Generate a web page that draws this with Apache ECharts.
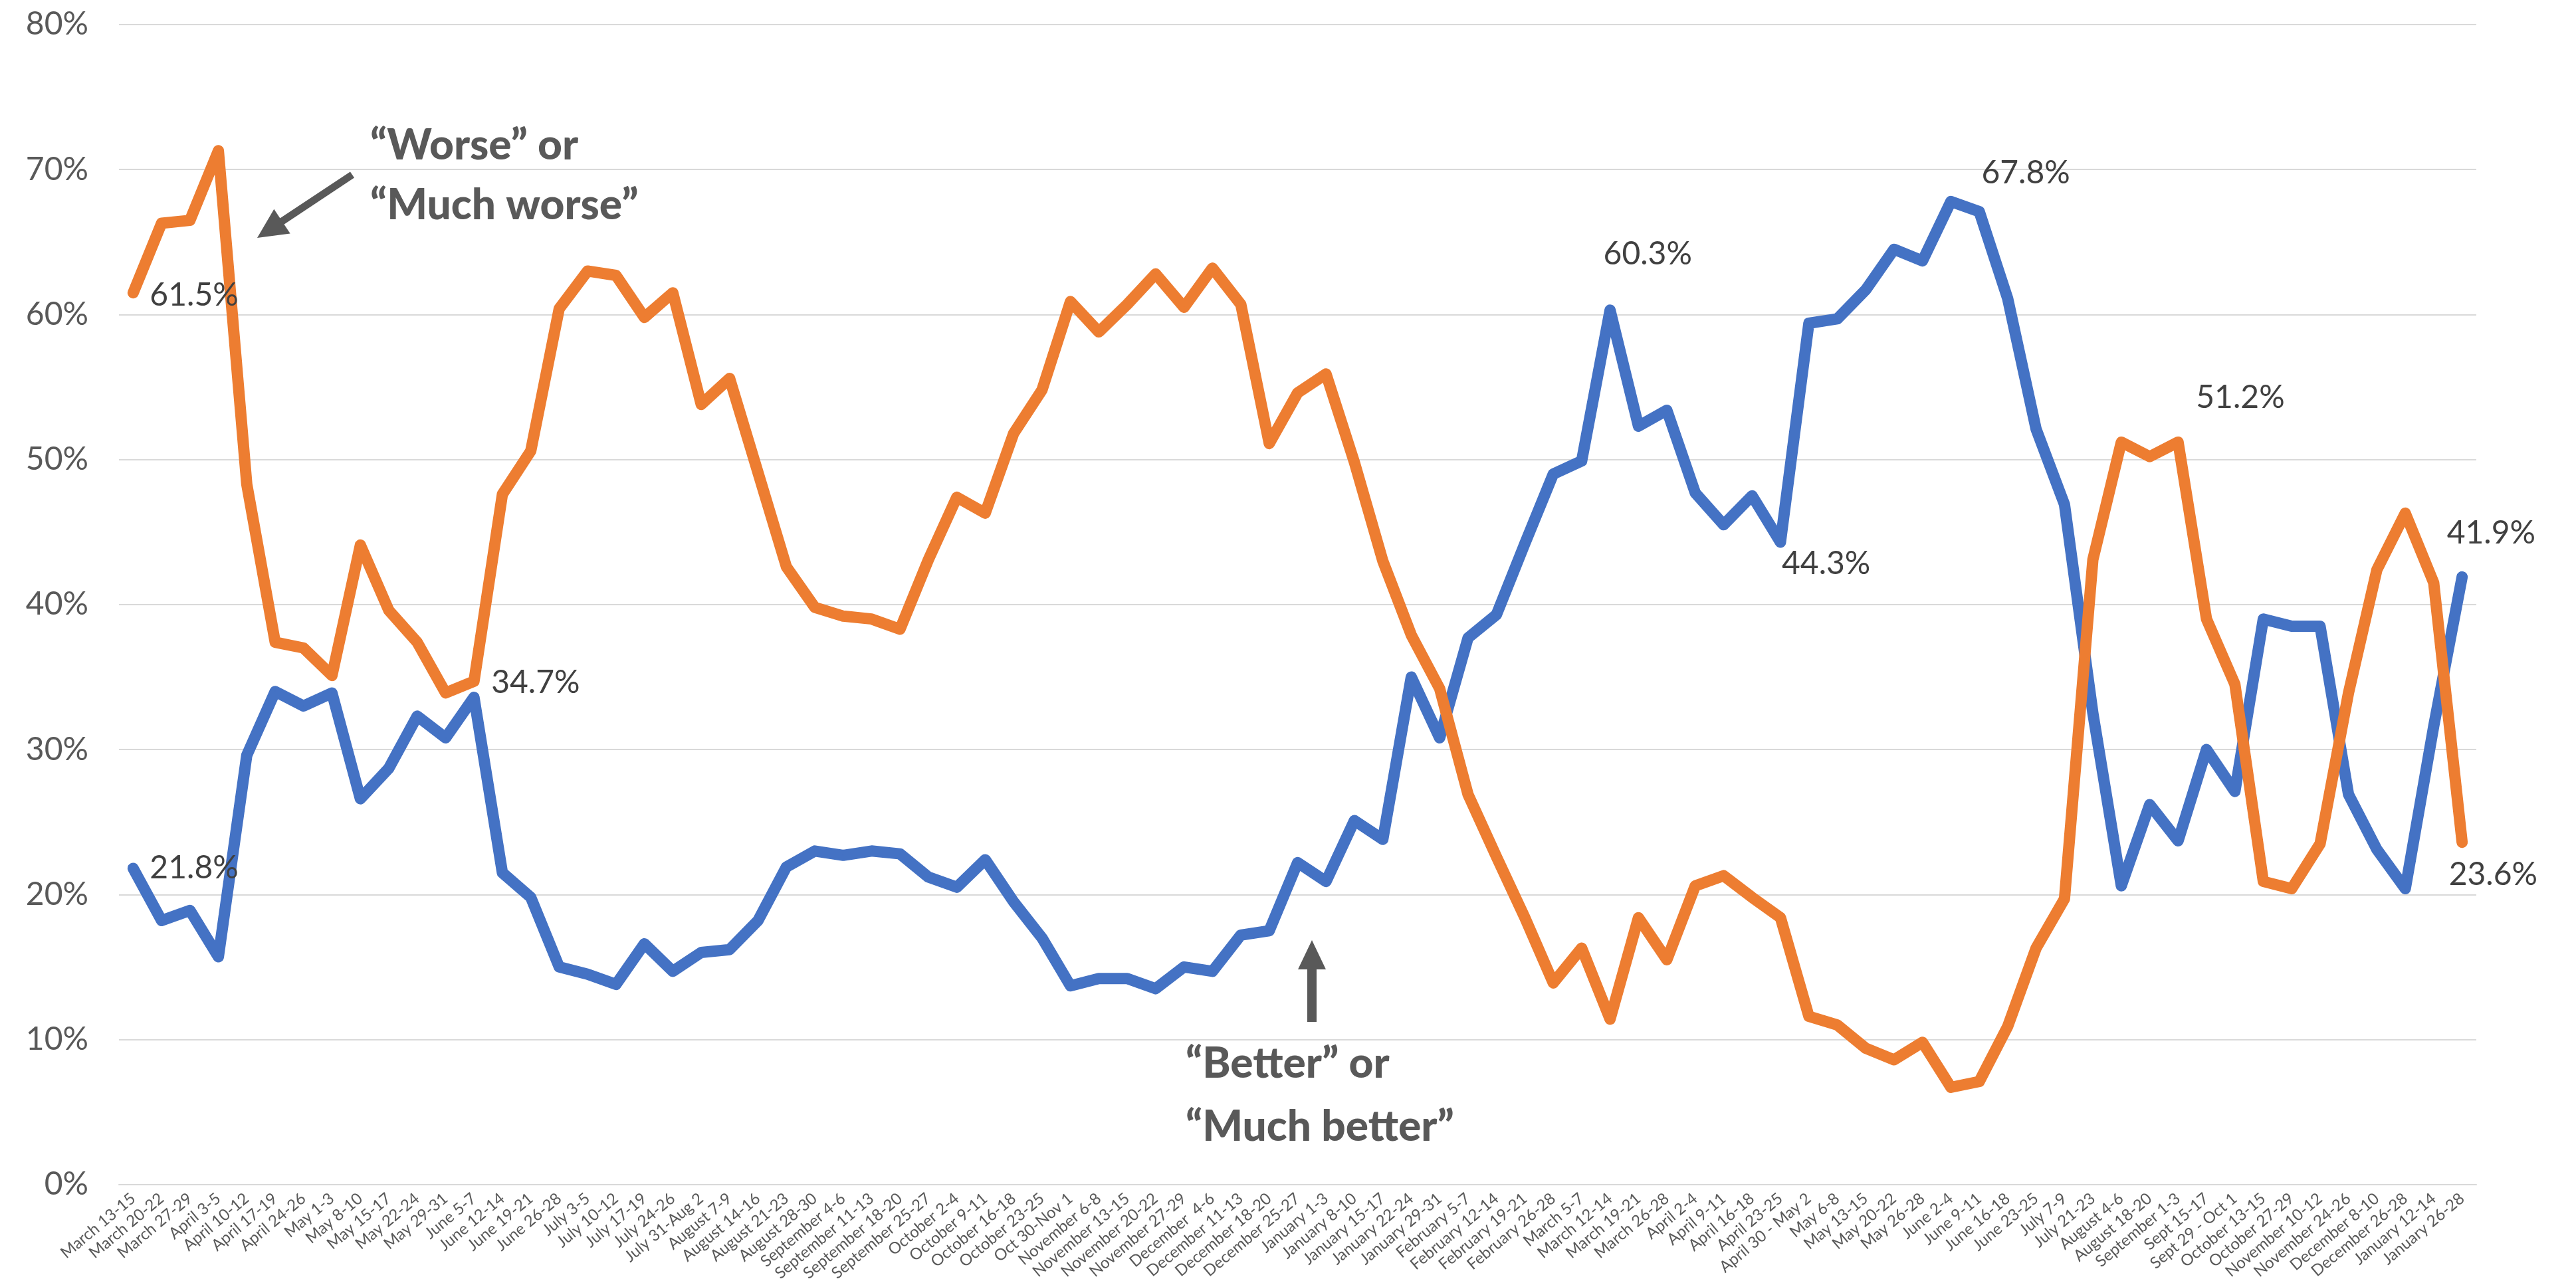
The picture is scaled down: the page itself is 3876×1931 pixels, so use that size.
<!DOCTYPE html>
<html>
<head>
<meta charset="utf-8">
<title>Better or worse</title>
<script src="https://cdn.jsdelivr.net/npm/echarts@6/dist/echarts.min.js"></script>
<style>
  html, body { margin: 0; padding: 0; background: #ffffff; }
  #chart { width: 3876px; height: 1931px; }
</style>
</head>
<body>
<div id="chart"></div>
<script>
// Survey waves (x axis)
const waves = [
  'March 13-15', 'March 20-22', 'March 27-29', 'April 3-5', 'April 10-12', 'April 17-19',
  'April 24-26', 'May 1-3', 'May 8-10', 'May 15-17', 'May 22-24', 'May 29-31',
  'June 5-7', 'June 12-14', 'June 19-21', 'June 26-28', 'July 3-5', 'July 10-12',
  'July 17-19', 'July 24-26', 'July 31-Aug 2', 'August 7-9', 'August 14-16', 'August 21-23',
  'August 28-30', 'September 4-6', 'September 11-13', 'September 18-20', 'September 25-27',
  'October 2-4', 'October 9-11', 'October 16-18', 'October 23-25', 'Oct 30-Nov 1',
  'November 6-8', 'November 13-15', 'November 20-22', 'November 27-29', 'December  4-6',
  'December 11-13', 'December 18-20', 'December 25-27', 'January 1-3', 'January 8-10',
  'January 15-17', 'January 22-24', 'January 29-31', 'February 5-7', 'February 12-14',
  'February 19-21', 'February 26-28', 'March 5-7', 'March 12-14', 'March 19-21',
  'March 26-28', 'April 2-4', 'April 9-11', 'April 16-18', 'April 23-25', 'April 30 - May 2',
  'May 6-8', 'May 13-15', 'May 20-22', 'May 26-28', 'June 2-4', 'June 9-11', 'June 16-18',
  'June 23-25', 'July 7-9', 'July 21-23', 'August 4-6', 'August 18-20', 'September 1-3',
  'Sept 15-17', 'Sept 29 - Oct 1', 'October 13-15', 'October 27-29', 'November 10-12',
  'November 24-26', 'December 8-10', 'December 26-28', 'January 12-14', 'January 26-28'
];

// Share answering "Better" or "Much better" (%)
const better = [
  21.8, 18.2, 18.9, 15.7, 29.6, 34.0, 33.0, 33.9, 26.6, 28.7, 32.3, 30.8,
  33.6, 21.5, 19.8, 15.0, 14.5, 13.8, 16.6, 14.7, 16.0, 16.2, 18.2, 21.9,
  23.0, 22.7, 23.0, 22.8, 21.2, 20.5, 22.4, 19.5, 17.0, 13.7, 14.2, 14.2,
  13.5, 15.0, 14.7, 17.2, 17.5, 22.2, 20.9, 25.1, 23.8, 35.0, 30.8, 37.7,
  39.3, 44.2, 49.0, 49.9, 60.3, 52.3, 53.4, 47.7, 45.5, 47.5, 44.3, 59.4,
  59.7, 61.7, 64.5, 63.7, 67.8, 67.1, 61.1, 52.1, 46.9, 32.5, 20.6, 26.2,
  23.7, 30.0, 27.1, 39.0, 38.5, 38.5, 26.9, 23.1, 20.4, 31.6, 41.9
];

// Share answering "Worse" or "Much worse" (%)
const worse = [
  61.5, 66.3, 66.5, 71.3, 48.3, 37.4, 37.0, 35.1, 44.1, 39.6, 37.4, 33.9,
  34.7, 47.6, 50.6, 60.4, 63.0, 62.7, 59.8, 61.5, 53.8, 55.6, 49.1, 42.6,
  39.8, 39.2, 39.0, 38.3, 43.1, 47.4, 46.3, 51.8, 54.8, 60.9, 58.8, 60.7,
  62.8, 60.5, 63.2, 60.7, 51.1, 54.6, 55.9, 49.8, 43.0, 37.9, 34.2, 26.9,
  22.6, 18.4, 13.9, 16.3, 11.4, 18.4, 15.5, 20.6, 21.3, 19.8, 18.4, 11.6,
  11.0, 9.4, 8.6, 9.8, 6.7, 7.1, 10.9, 16.3, 19.7, 43.1, 51.2, 50.2,
  51.2, 39.0, 34.5, 20.9, 20.4, 23.5, 33.9, 42.4, 46.3, 41.5, 23.6
];

// Y axis ticks
const yTicks = [0, 10, 20, 30, 40, 50, 60, 70, 80];

// Points that carry a value label: [index, dx, dy] (label offset from the point)
const betterLabels = [[0, 25, 0], [52, -10, -84], [58, 2, 33], [64, 46, -43], [82, -23, -66]];
const worseLabels  = [[0, 25, 4], [12, 26, 2], [72, 27, -67], [82, -20, 49]];

const BLUE = '#4472C4';
const ORANGE = '#ED7D31';
const TEXT = '#595959';
const SYM = 2;

function buildData(values, labels) {
  const lookup = {};
  labels.forEach(function (l) { lookup[l[0]] = l; });
  return values.map(function (v, i) {
    const l = lookup[i];
    if (!l) return v;
    return {
      value: v,
      label: {
        show: true,
        position: [l[1] + SYM / 2, l[2] + SYM / 2],
        align: 'left',
        verticalAlign: 'middle',
        formatter: function (p) { return p.value.toFixed(1) + '%'; },
        fontFamily: 'Lato',
        fontSize: 48,
        color: '#404040'
      }
    };
  });
}

// Arrow made of a shaft and a triangular head
function arrowShapes(tail, tip, headLen, headHalf, shaftW) {
  const dx = tip[0] - tail[0], dy = tip[1] - tail[1];
  const len = Math.sqrt(dx * dx + dy * dy);
  const ux = dx / len, uy = dy / len;
  const nx = -uy, ny = ux;
  const bx = tip[0] - ux * headLen, by = tip[1] - uy * headLen;
  return [
    {
      type: 'line',
      shape: { x1: tail[0], y1: tail[1], x2: bx + ux * 2, y2: by + uy * 2 },
      style: { stroke: TEXT, lineWidth: shaftW, lineCap: 'butt' }
    },
    {
      type: 'polygon',
      shape: { points: [[tip[0], tip[1]], [bx + nx * headHalf, by + ny * headHalf], [bx - nx * headHalf, by - ny * headHalf]] },
      style: { fill: TEXT }
    }
  ];
}

function note(x, y, text) {
  return {
    type: 'text',
    x: x, y: y,
    style: {
      text: text,
      fill: TEXT,
      fontFamily: 'Lato',
      fontWeight: 900,
      fontSize: 64,
      align: 'left',
      verticalAlign: 'middle'
    }
  };
}

const chart = echarts.init(document.getElementById('chart'), null, { renderer: 'canvas' });

chart.setOption({
  backgroundColor: '#ffffff',
  animation: false,
  grid: { left: 179, right: 150, top: 37, bottom: 138, containLabel: false },
  xAxis: {
    type: 'category',
    data: waves,
    boundaryGap: true,
    axisLine: { show: true, lineStyle: { color: '#D9D9D9', width: 2 } },
    axisTick: { show: false },
    axisLabel: {
      interval: 0,
      rotate: 40,
      margin: 18,
      fontFamily: 'Lato',
      fontSize: 24,
      color: TEXT
    },
    splitLine: { show: false }
  },
  yAxis: {
    type: 'value',
    min: yTicks[0],
    max: yTicks[yTicks.length - 1],
    interval: yTicks[1] - yTicks[0],
    axisLine: { show: false },
    axisTick: { show: false },
    axisLabel: {
      formatter: '{value}%',
      margin: 46,
      fontFamily: 'Lato',
      fontSize: 48,
      color: TEXT
    },
    splitLine: { show: true, lineStyle: { color: '#D9D9D9', width: 2 } }
  },
  series: [
    {
      name: 'Better',
      type: 'line',
      data: buildData(better, betterLabels),
      symbol: 'circle',
      symbolSize: SYM,
      showSymbol: true,
      showAllSymbol: true,
      itemStyle: { color: BLUE },
      lineStyle: { color: BLUE, width: 17, join: 'round', cap: 'round' },
      z: 2
    },
    {
      name: 'Worse',
      type: 'line',
      data: buildData(worse, worseLabels),
      symbol: 'circle',
      symbolSize: SYM,
      showSymbol: true,
      showAllSymbol: true,
      itemStyle: { color: ORANGE },
      lineStyle: { color: ORANGE, width: 17, join: 'round', cap: 'round' },
      z: 3
    }
  ],
  graphic: [].concat(
    arrowShapes([530, 263], [387, 358], 45, 22, 11),
    arrowShapes([1974, 1538], [1974, 1415], 44, 21, 14),
    [
      note(557, 219, '\u201CWorse\u201D or'),
      note(557, 309, '\u201CMuch worse\u201D'),
      note(1784, 1601, '\u201CBetter\u201D or'),
      note(1784, 1696, '\u201CMuch better\u201D')
    ]
  )
});
</script>
</body>
</html>
